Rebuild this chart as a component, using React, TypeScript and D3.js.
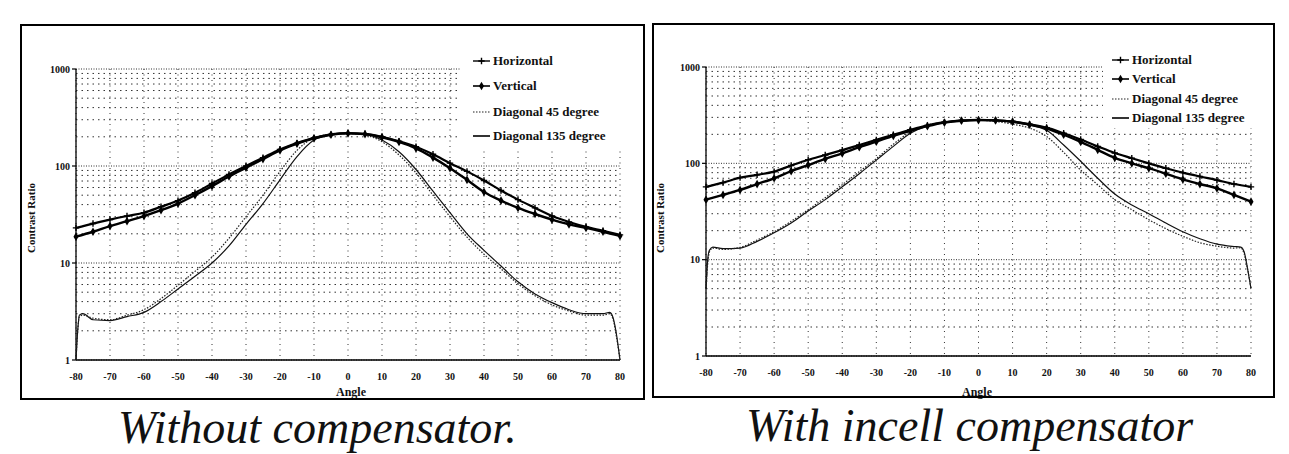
import React from 'react';
import * as d3 from 'd3';

// ---------- data ----------
const ANGLES = [-80, -75, -70, -65, -60, -55, -50, -45, -40, -35, -30, -25, -20, -15, -10, -5, 0, 5, 10, 15, 20, 25, 30, 35, 40, 45, 50, 55, 60, 65, 70, 75, 80];
const DIAG_ANGLES = [-80, -79.5, -79, -78, -75, -70, -65, -60, -55, -50, -45, -40, -35, -30, -25, -20, -15, -10, -5, 0, 5, 10, 15, 20, 25, 30, 35, 40, 45, 50, 55, 60, 65, 70, 75, 77, 78, 79, 80];
const X_TICKS = [-80, -70, -60, -50, -40, -30, -20, -10, 0, 10, 20, 30, 40, 50, 60, 70, 80];
const Y_TICKS = [1, 10, 100, 1000];
const SERIES_NAMES = ['Horizontal', 'Vertical', 'Diagonal 45 degree', 'Diagonal 135 degree'];
const TITLES = ['Without compensator.', 'With incell compensator'];
const X_TITLE = 'Angle';
const Y_TITLE = 'Contrast Ratio';

// Without compensator
const WO_H = [23, 25.5, 28, 30.5, 33, 38, 44, 53, 66, 82, 100, 122, 148, 172, 195, 212, 218, 215, 200, 180, 158, 132, 107, 88, 71, 56, 45, 37, 30.5, 26.5, 23.6, 21.5, 19.5];
const WO_V = [18.7, 21, 24, 27, 30.5, 35, 41, 50, 62, 78, 96, 118, 145, 170, 193, 210, 217, 213, 198, 177, 152, 122, 95, 72, 54, 44, 37, 32, 28, 25, 23, 21, 19];
const WO_D45 = [1.0, 2.0, 2.8, 2.9, 2.7, 2.6, 2.9, 3.3, 4.3, 5.9, 8.2, 11.5, 18, 30, 50, 88, 145, 195, 212, 216, 208, 178, 130, 85, 50, 30, 18.5, 12.3, 8.7, 6.1, 4.6, 3.7, 3.2, 2.9, 2.9, 3.0, 2.6, 1.7, 1.0];
const WO_D135 = [1.0, 2.0, 2.9, 3.0, 2.6, 2.55, 2.8, 3.1, 4.0, 5.4, 7.3, 10, 15, 25, 41, 72, 125, 185, 210, 217, 212, 185, 140, 92, 55, 33, 20, 13.5, 9.3, 6.4, 4.8, 3.9, 3.3, 3.0, 3.0, 3.1, 2.7, 1.8, 1.0];

// With incell compensator
const W_H = [57, 63, 71, 76, 82, 95, 109, 122, 137, 155, 175, 198, 223, 248, 268, 278, 282, 280, 272, 255, 235, 205, 177, 150, 128, 113, 100, 89, 80, 73, 67, 61, 57];
const W_V = [42, 47, 53, 61, 70, 83, 96, 111, 127, 147, 168, 193, 218, 243, 265, 277, 281, 279, 270, 252, 230, 198, 167, 138, 114, 100, 89, 78, 68, 61, 55, 47, 40];
const W_D45 = [5, 9, 12, 13.2, 12.8, 13.4, 16, 19.5, 25, 33, 44, 60, 82, 112, 158, 212, 250, 266, 276, 280, 272, 255, 232, 190, 130, 85, 60, 42, 33, 26, 21, 17.5, 15, 13.8, 13.2, 13.3, 11.5, 8, 5];
const W_D135 = [5, 10, 12.5, 13.5, 13, 13.2, 15.5, 19, 24, 32, 42, 57, 78, 108, 150, 205, 245, 265, 277, 281, 278, 268, 250, 220, 155, 105, 70, 48, 37, 30, 24, 19.5, 16.5, 14.5, 13.7, 13.5, 12, 8, 5];

const FONT = 'Liberation Serif';

type Cfg = {
  frame: [number, number, number, number];
  left: number; right: number; top: number; bottom: number;
  legX: number; legYs: number[]; legBoxX: number; legBoxBottom: number;
  yTitleX: number; yTitleY: number; xTitleX: number; xTitleY: number;
  tickY: number; titleX: number; titleY: number;
};

const PANELS: Cfg[] = [
  {
    frame: [21, 25, 623, 374],
    left: 76, right: 620, top: 69, bottom: 360,
    legX: 493, legYs: [61, 86, 112, 136], legBoxX: 461, legBoxBottom: 147,
    yTitleX: 31, yTitleY: 218, xTitleX: 351, xTitleY: 396,
    tickY: 380, titleX: 118, titleY: 443,
  },
  {
    frame: [653, 24, 621, 373],
    left: 706, right: 1251, top: 67, bottom: 356,
    legX: 1132, legYs: [60, 79, 99, 118], legBoxX: 1103, legBoxBottom: 128,
    yTitleX: 660, yTitleY: 218, xTitleX: 977, xTitleY: 396,
    tickY: 376, titleX: 746, titleY: 441,
  },
];

function Panel({ cfg, h, v, d45, d135, title }: { cfg: Cfg; h: number[]; v: number[]; d45: number[]; d135: number[]; title: string }) {
  const x = d3.scaleLinear().domain([-80, 80]).range([cfg.left, cfg.right]);
  const y = d3.scaleLog().domain([1, 1000]).range([cfg.bottom, cfg.top]);
  const gridVals = y.ticks();
  const line = d3
    .line<[number, number]>()
    .x((d) => x(d[0]))
    .y((d) => y(d[1]))
    .curve(d3.curveMonotoneX);
  const hPts: [number, number][] = ANGLES.map((a, i) => [a, h[i]]);
  const vPts: [number, number][] = ANGLES.map((a, i) => [a, v[i]]);
  const d45Pts: [number, number][] = DIAG_ANGLES.map((a, i) => [a, d45[i]]);
  const d135Pts: [number, number][] = DIAG_ANGLES.map((a, i) => [a, d135[i]]);
  const diamond = d3.symbol(d3.symbolDiamond, 22)() as string;
  const plus = 'M-3.2,0H3.2M0,-3.2V3.2';

  return (
    <g>
      {gridVals.map((g) => {
        const major = Y_TICKS.includes(g);
        return (
          <line
            key={'h' + g}
            x1={cfg.left}
            x2={cfg.right}
            y1={y(g)}
            y2={y(g)}
            stroke="#333"
            strokeWidth={1}
            strokeDasharray={major ? '1 1.5' : '1.5 4'}
          />
        );
      })}
      {X_TICKS.map((t) => (
        <line
          key={'v' + t}
          x1={x(t)}
          x2={x(t)}
          y1={cfg.top}
          y2={cfg.bottom}
          stroke="#333"
          strokeWidth={1}
          strokeDasharray="1 4.5"
        />
      ))}
      <rect x={cfg.legBoxX} y={cfg.top - 30} width={cfg.right - cfg.legBoxX + 12} height={cfg.legBoxBottom - cfg.top + 30} fill="#fff" />
      <line x1={cfg.left} x2={cfg.left} y1={cfg.top} y2={cfg.bottom} stroke="#000" strokeWidth={1.3} />
      <line x1={cfg.left} x2={cfg.right} y1={cfg.bottom} y2={cfg.bottom} stroke="#000" strokeWidth={1.6} />
      {Y_TICKS.map((t) => (
        <g key={'yt' + t}>
          <line x1={cfg.left - 4} x2={cfg.left} y1={y(t)} y2={y(t)} stroke="#000" strokeWidth={1.2} />
          <text x={cfg.left - 6} y={y(t) + 3.5} textAnchor="end" fontFamily={FONT} fontWeight="bold" fontSize={10} fill="#111">
            {t}
          </text>
        </g>
      ))}
      {X_TICKS.map((t) => (
        <text key={'xt' + t} x={x(t)} y={cfg.tickY} textAnchor="middle" fontFamily={FONT} fontWeight="bold" fontSize={10} fill="#111">
          {t}
        </text>
      ))}
      <text x={cfg.xTitleX} y={cfg.xTitleY} textAnchor="middle" fontFamily={FONT} fontWeight="bold" fontSize={12} fill="#111">
        {X_TITLE}
      </text>
      <text
        transform={`translate(${cfg.yTitleX},${cfg.yTitleY}) rotate(-90)`}
        textAnchor="middle"
        dy="0.35em"
        fontFamily={FONT}
        fontWeight="bold"
        fontSize={11}
        fill="#111"
      >
        {Y_TITLE}
      </text>
      <path d={line(d135Pts) as string} fill="none" stroke="#111" strokeWidth={1.2} />
      <path d={line(d45Pts) as string} fill="none" stroke="#222" strokeWidth={1.2} strokeDasharray="1.5 1.5" />
      <path d={line(vPts) as string} fill="none" stroke="#000" strokeWidth={2.4} />
      {vPts.map((p, i) => (
        <path key={'vm' + i} d={diamond} transform={`translate(${x(p[0])},${y(p[1])})`} fill="#000" />
      ))}
      <path d={line(hPts) as string} fill="none" stroke="#000" strokeWidth={2.2} />
      {hPts.map((p, i) => (
        <path key={'hm' + i} d={plus} transform={`translate(${x(p[0])},${y(p[1])})`} stroke="#000" strokeWidth={1.4} fill="none" />
      ))}
      {SERIES_NAMES.map((name, i) => {
        const ly = cfg.legYs[i];
        const x0 = cfg.legX - 20;
        const x1 = cfg.legX - 3;
        const xm = (x0 + x1) / 2;
        return (
          <g key={name}>
            {i === 0 && (
              <>
                <line x1={x0} x2={x1} y1={ly} y2={ly} stroke="#000" strokeWidth={1.4} />
                <path d={plus} transform={`translate(${xm},${ly})`} stroke="#000" strokeWidth={1.4} />
              </>
            )}
            {i === 1 && (
              <>
                <line x1={x0} x2={x1} y1={ly} y2={ly} stroke="#000" strokeWidth={1.6} />
                <path d={diamond} transform={`translate(${xm},${ly})`} fill="#000" />
              </>
            )}
            {i === 2 && <line x1={x0} x2={x1} y1={ly} y2={ly} stroke="#222" strokeWidth={1.2} strokeDasharray="1.5 1.5" />}
            {i === 3 && <line x1={x0} x2={x1} y1={ly} y2={ly} stroke="#000" strokeWidth={1.6} />}
            <text x={cfg.legX} y={ly + 4} fontFamily={FONT} fontWeight="bold" fontSize={13} fill="#111">
              {name}
            </text>
          </g>
        );
      })}
      <rect x={cfg.frame[0]} y={cfg.frame[1]} width={cfg.frame[2]} height={cfg.frame[3]} fill="none" stroke="#000" strokeWidth={2} />
      <text x={cfg.titleX} y={cfg.titleY} fontFamily={FONT} fontStyle="italic" fontSize={46} fill="#111">
        {title}
      </text>
    </g>
  );
}

export default function App() {
  return (
    <svg
      width={1289}
      height={454}
      viewBox="0 0 1289 454"
      style={{ position: 'absolute', left: 0, top: 0, display: 'block', background: '#fff' }}
    >
      <rect x={0} y={0} width={1289} height={454} fill="#fff" />
      <Panel cfg={PANELS[0]} h={WO_H} v={WO_V} d45={WO_D45} d135={WO_D135} title={TITLES[0]} />
      <Panel cfg={PANELS[1]} h={W_H} v={W_V} d45={W_D45} d135={W_D135} title={TITLES[1]} />
    </svg>
  );
}
